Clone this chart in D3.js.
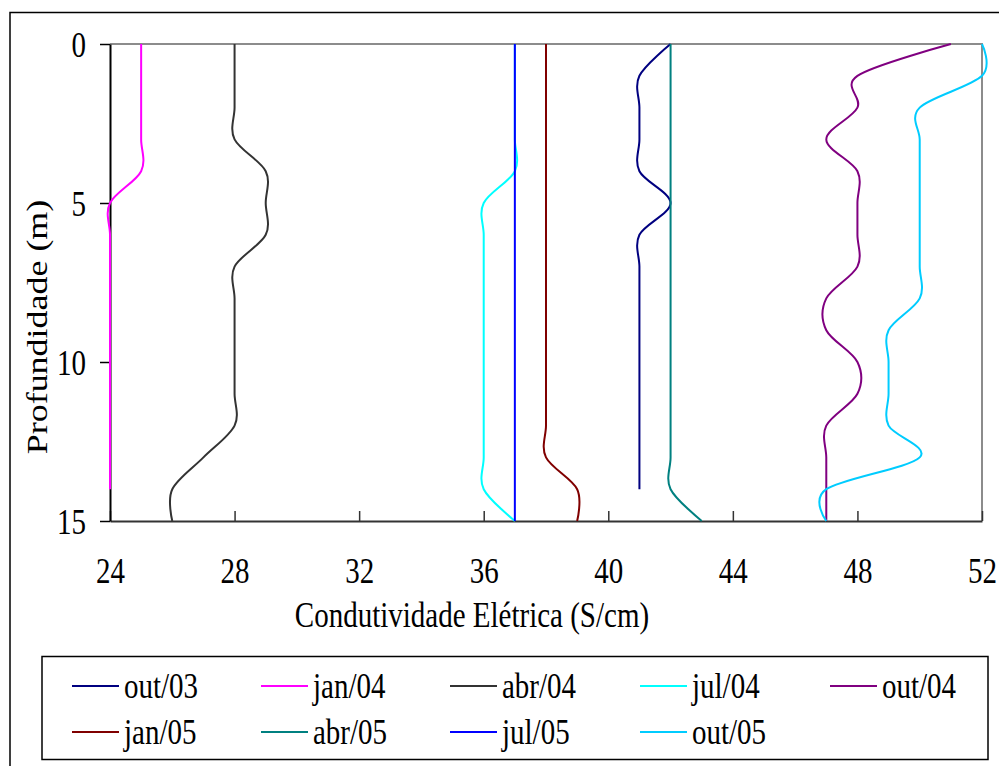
<!DOCTYPE html>
<html>
<head>
<meta charset="utf-8">
<script src="https://cdn.jsdelivr.net/npm/d3@7"></script>
<style>
  html, body { margin: 0; padding: 0; background: #fff; }
  svg { display: block; }
  text { font-family: "Liberation Serif", "Times New Roman", serif; fill: #000; }
</style>
</head>
<body>
<svg id="chart" width="999" height="766"></svg>
<script>
// Depth of each reading (m)
const depths = [0, 1, 2, 3, 4, 5, 6, 7, 8, 9, 10, 11, 12, 13, 14, 15];

// Electrical conductivity per campaign, one value per depth
const out03 = [42, 41, 41, 41, 41, 42, 41, 41, 41, 41, 41, 41, 41, 41, 41];
const jan04 = [25, 25, 25, 25, 25, 24, 24, 24, 24, 24, 24, 24, 24, 24, 24];
const abr04 = [28, 28, 28, 28, 29, 29, 29, 28, 28, 28, 28, 28, 28, 27, 26, 26];
const jul04 = [37, 37, 37, 37, 37, 36, 36, 36, 36, 36, 36, 36, 36, 36, 36, 37];
const out04 = [51, 48, 48, 47, 48, 48, 48, 48, 47, 47, 48, 48, 47, 47, 47, 47];
const jan05 = [38, 38, 38, 38, 38, 38, 38, 38, 38, 38, 38, 38, 38, 38, 39, 39];
const abr05 = [42, 42, 42, 42, 42, 42, 42, 42, 42, 42, 42, 42, 42, 42, 42, 43];
const jul05 = [37, 37, 37, 37, 37, 37, 37, 37, 37, 37, 37, 37, 37, 37, 37, 37];
const out05 = [52, 52, 50, 50, 50, 50, 50, 50, 50, 49, 49, 49, 49, 50, 47, 47];

const seriesNames  = ["out/03", "jan/04", "abr/04", "jul/04", "out/04", "jan/05", "abr/05", "jul/05", "out/05"];
const seriesValues = [out03, jan04, abr04, jul04, out04, jan05, abr05, jul05, out05];
const seriesColors = ["#000080", "#FF00FF", "#333333", "#00FFFF", "#800080", "#800000", "#008080", "#0000FF", "#00CCFF"];

const xTicks = [24, 28, 32, 36, 40, 44, 48, 52];
const yTicks = [0, 5, 10, 15];

const svg = d3.select("#chart");
const font = 29;
const stretch = 1.24;   // glyphs are drawn taller than their natural proportion

// Outer chart frame
svg.append("rect")
  .attr("x", 10).attr("y", 12.5)
  .attr("width", 1000).attr("height", 800)
  .attr("fill", "none").attr("stroke", "#000").attr("stroke-width", 1.5);

const plot = { left: 110, right: 982, top: 44, bottom: 521 };

const x = d3.scaleLinear().domain([24, 52]).range([plot.left, plot.right]);
const y = d3.scaleLinear().domain([0, 15]).range([plot.top, plot.bottom]);

// Plot area border (top and right)
svg.append("path")
  .attr("d", `M${plot.left},${plot.top}H${plot.right}V${plot.bottom}`)
  .attr("fill", "none").attr("stroke", "#8c8c8c").attr("stroke-width", 2);

// Bottom axis: ticks point up into the plot
const xAxis = svg.append("g")
  .attr("transform", `translate(0,${plot.bottom})`)
  .call(d3.axisBottom(x).tickValues(xTicks).tickSizeInner(-10).tickSizeOuter(0).tickPadding(0));
xAxis.select(".domain").attr("stroke", "#333").attr("stroke-width", 2);
xAxis.selectAll(".tick line").attr("stroke", "#333").attr("stroke-width", 1.5);
xAxis.selectAll(".tick text")
  .attr("y", 0).attr("dy", null)
  .attr("transform", `translate(0,62) scale(1,${stretch})`)
  .style("font-size", font + "px")
  .style("font-family", "'Liberation Serif', serif");

// Left axis: ticks point outward
const yAxis = svg.append("g")
  .attr("transform", `translate(${plot.left},0)`)
  .call(d3.axisLeft(y).tickValues(yTicks).tickSizeInner(10).tickSizeOuter(0).tickPadding(0));
yAxis.select(".domain").attr("stroke", "#000").attr("stroke-width", 2);
yAxis.selectAll(".tick line").attr("stroke", "#000").attr("stroke-width", 1.5);
yAxis.selectAll(".tick text")
  .attr("x", 0).attr("dy", "0.34em")
  .attr("transform", `translate(-24,0) scale(1,${stretch})`)
  .style("font-size", font + "px")
  .style("font-family", "'Liberation Serif', serif");

// Series lines, drawn over the axes
const line = d3.line()
  .x(d => x(d.v))
  .y(d => y(d.d))
  .curve(d3.curveCardinal.tension(0));

seriesValues.forEach((vals, i) => {
  const pts = vals.map((v, k) => ({ v: v, d: depths[k] }));
  svg.append("path")
    .datum(pts)
    .attr("d", line)
    .attr("fill", "none")
    .attr("stroke", seriesColors[i])
    .attr("stroke-width", 2);
});

// Axis titles
svg.append("text")
  .attr("transform", `translate(${(plot.left + plot.right) / 2 - 74},627) scale(1,${stretch})`)
  .attr("text-anchor", "middle")
  .style("font-size", font + "px")
  .text("Condutividade Elétrica (S/cm)");

svg.append("text")
  .attr("transform", `translate(47,327) scale(1,${stretch}) rotate(-90)`)
  .attr("text-anchor", "middle")
  .style("font-size", font + "px")
  .text("Profundidade (m)");

// Legend
const legend = svg.append("g");
legend.append("rect")
  .attr("x", 42).attr("y", 656.5)
  .attr("width", 946).attr("height", 103)
  .attr("fill", "none").attr("stroke", "#000").attr("stroke-width", 1.5);

const colStart = [72, 261, 450, 640, 830];
const rowY = [686, 732];
seriesNames.forEach((name, i) => {
  const cx = colStart[i % 5];
  const cy = rowY[Math.floor(i / 5)];
  legend.append("line")
    .attr("x1", cx).attr("x2", cx + 47)
    .attr("y1", cy).attr("y2", cy)
    .attr("stroke", seriesColors[i]).attr("stroke-width", 2);
  legend.append("text")
    .attr("transform", `translate(${cx + 52},${cy}) scale(1,${stretch})`)
    .attr("dy", "0.34em")
    .style("font-size", font + "px")
    .text(name);
});
</script>
</body>
</html>
